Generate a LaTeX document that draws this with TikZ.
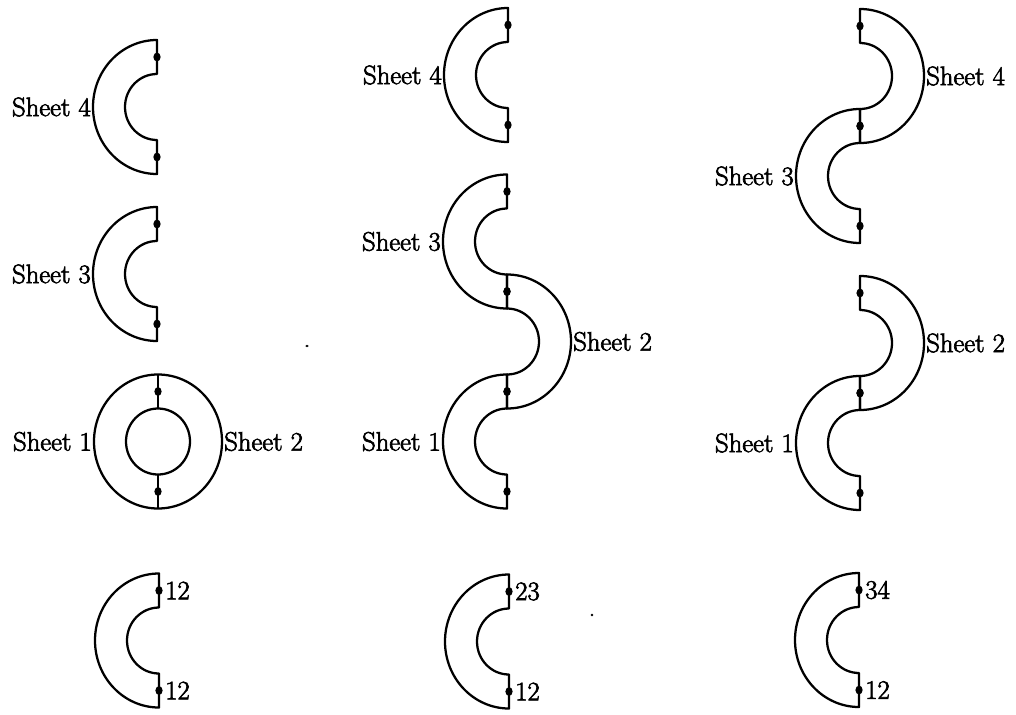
\documentclass[tikz,border=0pt]{standalone}
\usepackage{fontspec}
% an emboldened roman for the labels
\newfontfamily\labelfont{Latin Modern Roman}[FakeBold=2.6]
\begin{document}
% one unit = one pixel of the final drawing; y grows downward
\begin{tikzpicture}[x=0.75pt,y=-0.75pt,
  sheetline/.style={line width=1.7pt,line join=round},
  lbl/.style={inner sep=1.5pt,font=\labelfont\fontsize{20}{24}\selectfont},
  joint/.style={fill=black},
  % half annulus opening to the right (outer arc on the left)
  halfL/.pic={
    \draw[sheetline] (0,-67) arc[start angle=90,end angle=270,x radius=48pt,y radius=50.25pt]
      -- (0,33) arc[start angle=270,end angle=90,x radius=24pt,y radius=24.75pt] -- cycle;
    \fill[joint] (0,-50) ellipse[x radius=2.7pt,y radius=3.3pt];
    \fill[joint] (0,50) ellipse[x radius=2.7pt,y radius=3.3pt];
    \coordinate (-w) at (-64,0);
    \coordinate (-n) at (0,-50);
    \coordinate (-s) at (0,50);
  },
  % half annulus opening to the left (outer arc on the right)
  halfR/.pic={
    \draw[sheetline] (0,-67) arc[start angle=90,end angle=-90,x radius=48pt,y radius=50.25pt]
      -- (0,33) arc[start angle=-90,end angle=90,x radius=24pt,y radius=24.75pt] -- cycle;
    \fill[joint] (0,-50) ellipse[x radius=2.7pt,y radius=3.3pt];
    \fill[joint] (0,50) ellipse[x radius=2.7pt,y radius=3.3pt];
    \coordinate (-e) at (64,0);
  },
  % full annulus made of two glued sheets
  ring/.pic={
    \draw[sheetline] (0,0) ellipse[x radius=48pt,y radius=50.25pt];
    \draw[sheetline] (0,0) ellipse[x radius=24pt,y radius=24.75pt];
    \draw[sheetline] (0,-67) -- (0,-33) (0,33) -- (0,67);
    \fill[joint] (0,-50) ellipse[x radius=2.7pt,y radius=3.3pt];
    \fill[joint] (0,50) ellipse[x radius=2.7pt,y radius=3.3pt];
    \coordinate (-w) at (-64,0);
    \coordinate (-e) at (64,0);
  }]
\useasboundingbox (0,0) rectangle (1016,714);

% ---- first column ----
\pic (a4) at (157,107) {halfL};
\pic (a3) at (157,274) {halfL};
\pic (a12) at (158,441.5) {ring};
\pic (ab) at (159,640.5) {halfL};
\node[lbl,anchor=east] (ta4) at (a4-w) {Sheet 4};
\node[lbl,anchor=east] (ta3) at (a3-w) {Sheet 3};
\node[lbl,anchor=east] (ta1) at (a12-w) {Sheet 1};
\node[lbl,anchor=west] (ta2) at (a12-e) {Sheet 2};
\node[lbl,anchor=west,xshift=3pt] (tab1) at (ab-n) {12};
\node[lbl,anchor=west,xshift=3pt] (tab2) at (ab-s) {12};

% ---- second column ----
\pic (b4) at (508,75) {halfL};
\pic (b3) at (507,241.5) {halfL};
\pic (b2) at (507,341.5) {halfR};
\pic (b1) at (507,441.5) {halfL};
\pic (bb) at (509,641.5) {halfL};
\node[lbl,anchor=east] (tb4) at (b4-w) {Sheet 4};
\node[lbl,anchor=east] (tb3) at (b3-w) {Sheet 3};
\node[lbl,anchor=west] (tb2) at (b2-e) {Sheet 2};
\node[lbl,anchor=east] (tb1) at (b1-w) {Sheet 1};
\node[lbl,anchor=west,xshift=3pt] (tbb1) at (bb-n) {23};
\node[lbl,anchor=west,xshift=3pt] (tbb2) at (bb-s) {12};

% ---- third column ----
\pic (c4) at (860,76) {halfR};
\pic (c3) at (860,176) {halfL};
\pic (c2) at (860,343) {halfR};
\pic (c1) at (860,443) {halfL};
\pic (cb) at (859,640) {halfL};
\node[lbl,anchor=west] (tc4) at (c4-e) {Sheet 4};
\node[lbl,anchor=east] (tc3) at (c3-w) {Sheet 3};
\node[lbl,anchor=west] (tc2) at (c2-e) {Sheet 2};
\node[lbl,anchor=east] (tc1) at (c1-w) {Sheet 1};
\node[lbl,anchor=west,xshift=3pt] (tcb1) at (cb-n) {34};
\node[lbl,anchor=west,xshift=3pt] (tcb2) at (cb-s) {12};

% two small specks
\fill (307,346) ellipse[x radius=1.3pt,y radius=0.9pt];
\fill (592,615) circle[radius=1.1pt];
\end{tikzpicture}
\end{document}
